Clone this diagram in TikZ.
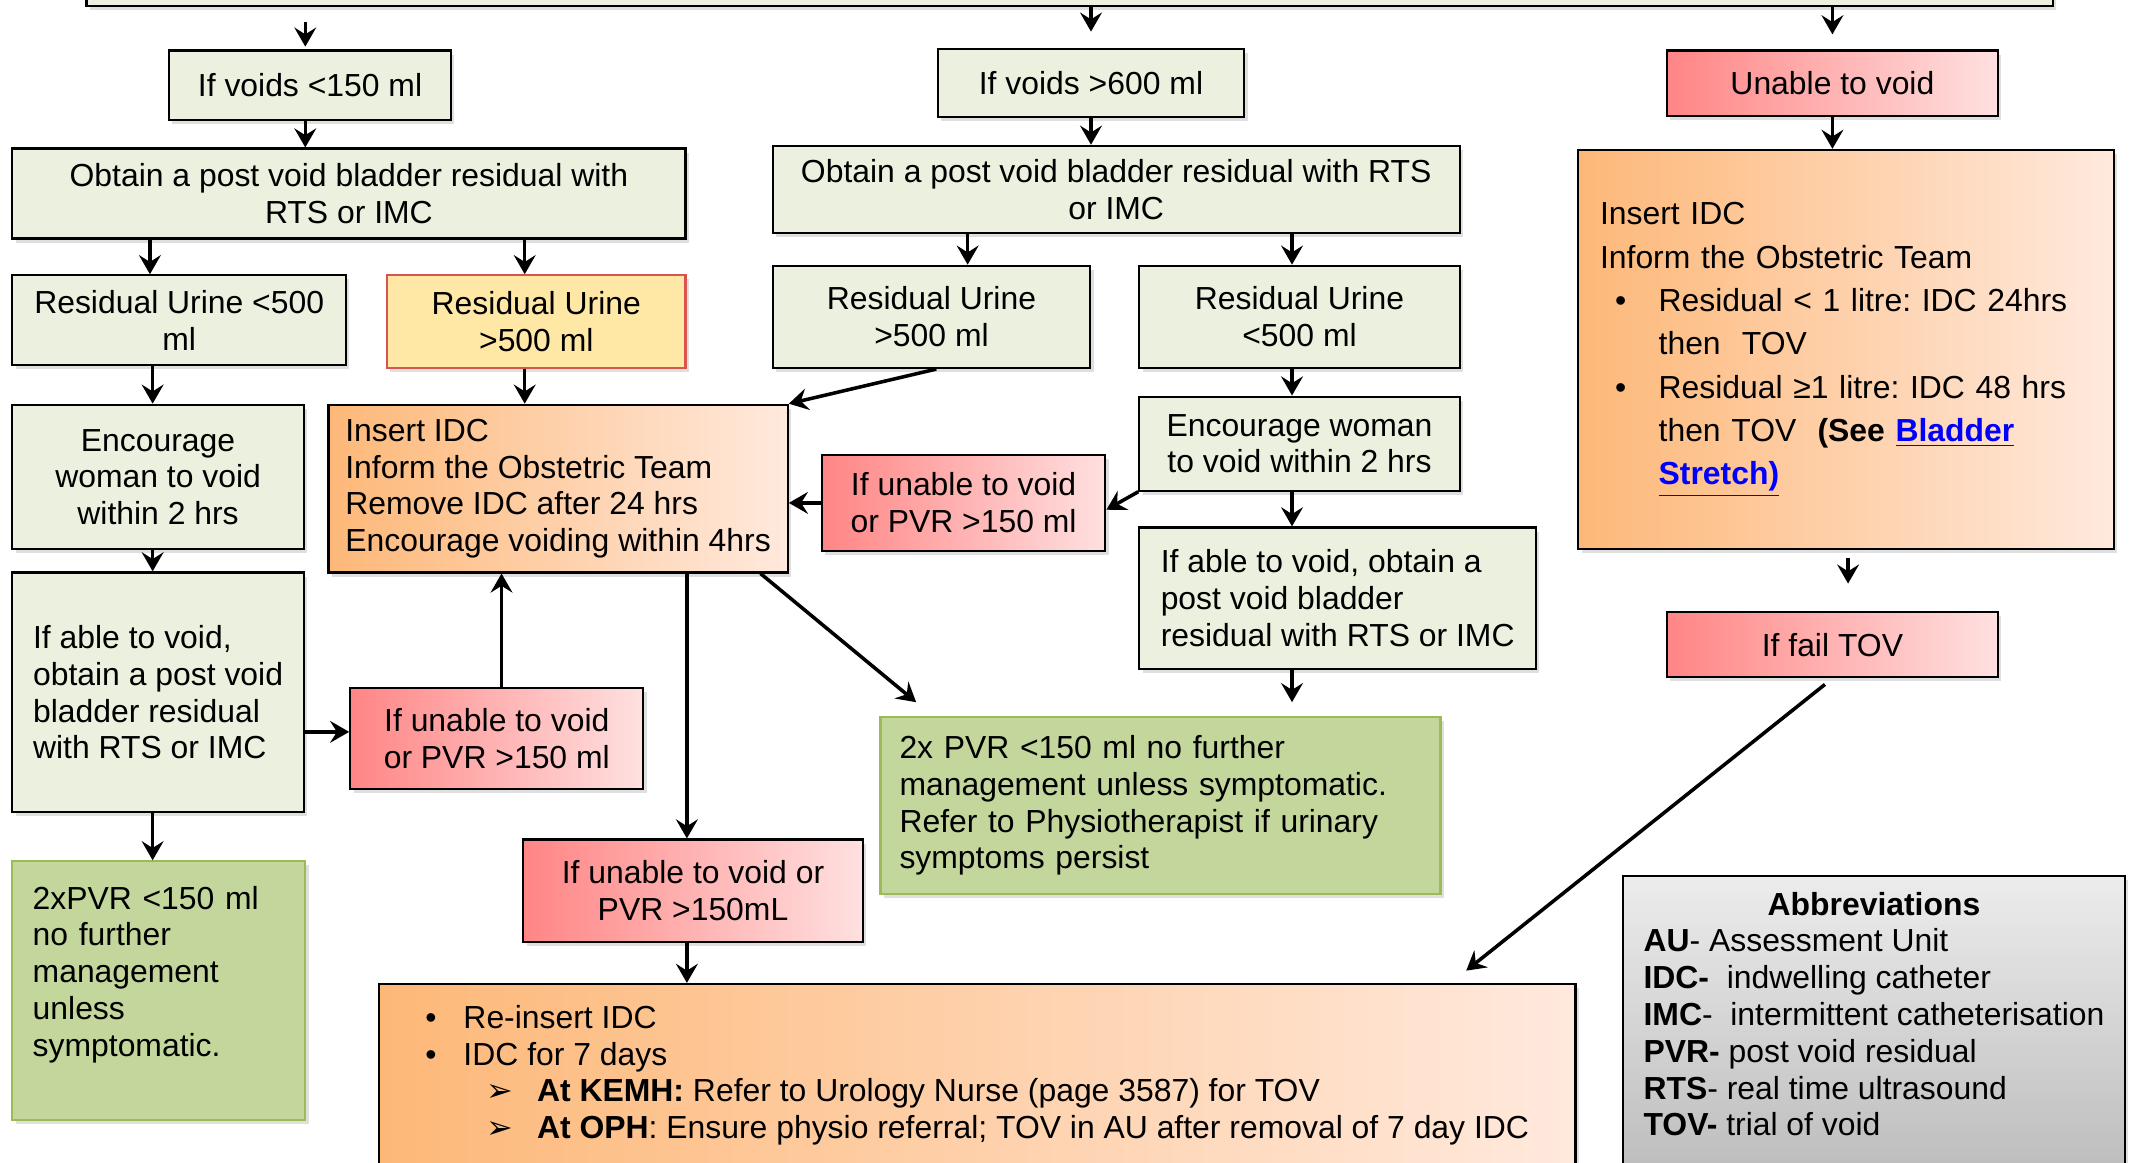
\documentclass[tikz,border=0pt]{standalone}
\usepackage{fontspec}
\setmainfont{Liberation Sans}
\newfontfamily\symfont{DejaVu Sans}
\usetikzlibrary{arrows.meta,shadows}

\definecolor{boxgreen}{HTML}{EBF1DE}
\definecolor{okgreen}{HTML}{C3D69B}
\definecolor{okedge}{HTML}{9BBB59}
\definecolor{warnyellow}{HTML}{FFE8A6}
\definecolor{warnedge}{HTML}{D9534F}
\definecolor{redL}{HTML}{FF8585}
\definecolor{redR}{HTML}{FFE0E0}
\definecolor{orgL}{HTML}{FDB878}
\definecolor{orgR}{HTML}{FFE9DD}
\definecolor{greyT}{HTML}{ECECEC}
\definecolor{greyB}{HTML}{BDBDBD}
\definecolor{linkblue}{HTML}{0000FF}

\newcommand{\dotat}[2]{\hspace*{#1pt}\makebox[#2pt][l]{\textbullet}}
\newcommand{\tipat}[2]{\hspace*{#1pt}\makebox[#2pt][l]{\symfont ➢}}
\newcommand{\linktext}[1]{\textcolor{linkblue}{\underline{#1}}}

\tikzset{
	flow/.style={draw=black, line width=0.8pt, inner sep=0pt, align=center,
		font=\fontsize{11.7}{13.5}\selectfont\frenchspacing,
		drop shadow={opacity=0.25, shadow xshift=1.2pt, shadow yshift=-1.5pt}},
	wh/.style 2 args={minimum width=#1*0.5pt, minimum height=#2*0.5pt},
	plain/.style={flow, fill=boxgreen},
	good/.style={flow, fill=okgreen, draw=okedge},
	warn/.style={flow, fill=warnyellow, draw=warnedge},
	alarm/.style={flow, left color=redL, right color=redR},
	action/.style={flow, left color=orgL, right color=orgR},
	legend/.style={flow, top color=greyT, bottom color=greyB},
	arr/.style={-{Stealth[length=7pt,width=8pt,inset=2.5pt]}, line width=1.3pt},
}

\begin{document}
\begin{tikzpicture}[x=0.5pt,y=-0.5pt]
	\useasboundingbox (0,0) rectangle (1568,853);
	\clip (0,0) rectangle (1568,853);
	% row 0 and 1
	\node[plain, wh={1443}{45}] (top) at (785,-18) {};
	\node[plain, wh={207}{51}] (voidLow) at (227.5,62.5) {If voids <150 ml};
	\node[plain, wh={225}{50}] (voidHigh) at (800.5,61) {If voids >600 ml};
	\node[alarm, wh={243}{48}] (noVoid) at (1344.5,61) {Unable to void};
	% row 2
	\node[plain, wh={494}{66}] (pvrLeft) at (256,142) {Obtain a post void bladder residual with\\RTS or IMC};
	\node[plain, wh={504}{64}] (pvrMid) at (819,139) {Obtain a post void bladder residual with RTS\\or IMC};
	\node[action, wh={393}{293}, align=left, text width=180.5pt, inner xsep=8pt,
		font=\fontsize{11.7}{15.9}\selectfont\frenchspacing] (idcRight) at (1354.5,256.5) {Insert IDC\\
		Inform the Obstetric Team\\
		\dotat{5.5}{16}Residual < 1 litre: IDC 24hrs\\
		\hspace*{21.5pt}then\ \ TOV\\
		\dotat{5.5}{16}Residual ≥1 litre: IDC 48 hrs\\
		\hspace*{21.5pt}then TOV\ \ \textbf{(See \linktext{Bladder}}\\
		\hspace*{21.5pt}\textbf{\linktext{Stretch)}}};
	% row 3
	\node[plain, wh={245}{66}] (resLeftLow) at (131.5,235) {Residual Urine <500\\ml};
	\node[warn, wh={219}{68}] (resLeftHigh) at (393.5,236) {Residual Urine\\>500 ml};
	\node[plain, wh={233}{75}] (resMidHigh) at (683.5,232.5) {Residual Urine\\>500 ml};
	\node[plain, wh={235}{75}] (resMidLow) at (953.5,232.5) {Residual Urine\\<500 ml};
	% row 4
	\node[plain, wh={214}{106}] (encLeft) at (116,350) {Encourage\\woman to void\\within 2 hrs};
	\node[action, wh={337}{123}, align=left] (idcMid) at (409.5,358.5) {Insert IDC\\Inform the Obstetric Team\\Remove IDC after 24 hrs\\Encourage voiding within 4hrs};
	\node[alarm, wh={208}{70}] (failMid) at (707,369) {If unable to void\\or PVR >150 ml};
	\node[plain, wh={235}{69}] (encRight) at (953.5,325.5) {Encourage woman\\to void within 2 hrs};
	% row 5
	\node[plain, wh={214}{176}, align=left] (ableLeft) at (116,508) {If able to void,\\obtain a post void\\bladder residual\\with RTS or IMC};
	\node[alarm, wh={215}{74}] (failLeft) at (364.5,542) {If unable to void\\or PVR >150 ml};
	\node[plain, wh={291}{104}, align=left] (ableRight) at (981.5,439) {If able to void, obtain a\\post void bladder\\residual with RTS or IMC};
	\node[good, wh={411}{130}, align=left, text width=191.5pt, inner xsep=7pt] (okRight) at (851.5,591) {2x PVR <150 ml no further\\management unless symptomatic.\\Refer to Physiotherapist if urinary\\symptoms persist};
	\node[alarm, wh={243}{48}] (failTov) at (1344.5,473) {If fail TOV};
	% row 6
	\node[good, wh={215}{190}, align=left, text width=92.5pt, inner xsep=7.5pt, text depth=68.5pt] (okLeft) at (116.5,727) {2xPVR <150 ml\\no further\\management\\unless\\symptomatic.};
	\node[alarm, wh={249}{75}] (failLow) at (508.5,653.5) {If unable to void or\\PVR >150mL};
	\node[action, wh={878}{134}, align=left] (idcWeek) at (717,789) {\dotat{0}{14}Re-insert IDC\\
		\dotat{0}{14}IDC for 7 days\\
		\tipat{22.5}{18.5}\textbf{At KEMH:} Refer to Urology Nurse (page 3587) for TOV\\
		\tipat{22.5}{18.5}\textbf{At OPH}: Ensure physio referral; TOV in AU after removal of 7 day IDC};
	\node[legend, wh={368}{216}] (abbrev) at (1375,751) {\begin{tabular}{@{}l@{}}
		\multicolumn{1}{@{}c@{}}{\textbf{Abbreviations}}\\
		\textbf{AU}- Assessment Unit\\
		\textbf{IDC-}\ \ indwelling catheter\\
		\textbf{IMC}-\ \ intermittent catheterisation\\
		\textbf{PVR-} post void residual\\
		\textbf{RTS}- real time ultrasound\\
		\textbf{TOV-} trial of void\\[4pt]
		\end{tabular}};
	% connectors
	\draw[arr, shorten <=5.5pt, shorten >=1pt] (224,0 |- top.south) -- (224,0 |- voidLow.north);
	\draw[arr, shorten >=6pt] (voidHigh.north |- top.south) -- (voidHigh.north);
	\draw[arr, shorten >=5.5pt] (noVoid.north |- top.south) -- (noVoid.north);
	\draw[arr] (224,0 |- voidLow.south) -- (224,0 |- pvrLeft.north);
	\draw[arr] (voidHigh.south) -- (voidHigh.south |- pvrMid.north);
	\draw[arr] (noVoid.south) -- (noVoid.south |- idcRight.north);
	\draw[arr] (110,0 |- pvrLeft.south) -- (110,0 |- resLeftLow.north);
	\draw[arr] (385,0 |- pvrLeft.south) -- (385,0 |- resLeftHigh.north);
	\draw[arr] (710,0 |- pvrMid.south) -- (710,0 |- resMidHigh.north);
	\draw[arr] (948,0 |- pvrMid.south) -- (948,0 |- resMidLow.north);
	\draw[arr] (112,0 |- resLeftLow.south) -- (112,0 |- encLeft.north);
	\draw[arr] (385,0 |- resLeftHigh.south) -- (385,0 |- idcMid.north);
	\draw[arr] (687,0 |- resMidHigh.south) -- (idcMid.north east);
	\draw[arr] (948,0 |- resMidLow.south) -- (948,0 |- encRight.north);
	\draw[arr] (112,0 |- encLeft.south) -- (112,0 |- ableLeft.north);
	\draw[arr] (failMid.west) -- (failMid.west -| idcMid.east);
	\draw[arr] (encRight.south west) -- ([yshift=-2.5pt]failMid.east);
	\draw[arr] (948,0 |- encRight.south) -- (948,0 |- ableRight.north);
	\draw[arr] (ableLeft.east |- 0,537) -- (failLeft.west |- 0,537);
	\draw[arr] (368,0 |- failLeft.north) -- (368,0 |- idcMid.south);
	\draw[arr] (504,0 |- idcMid.south) -- (504,0 |- failLow.north);
	\draw[arr] (558,0 |- idcMid.south) -- ([shift={(27,-10)}]okRight.north west);
	\draw[arr, shorten >=5pt] (948,0 |- ableRight.south) -- (948,0 |- okRight.north);
	\draw[arr] (112,0 |- ableLeft.south) -- (112,0 |- okLeft.north);
	\draw[arr] (504,0 |- failLow.south) -- (504,0 |- idcWeek.north);
	\draw[arr, shorten <=2.75pt, shorten >=10pt] (1356,0 |- idcRight.south) -- (1356,0 |- failTov.north);
	\draw[arr, shorten <=3.5pt] (failTov.south) -- ([shift={(-81,-9)}]idcWeek.north east);
\end{tikzpicture}
\end{document}
